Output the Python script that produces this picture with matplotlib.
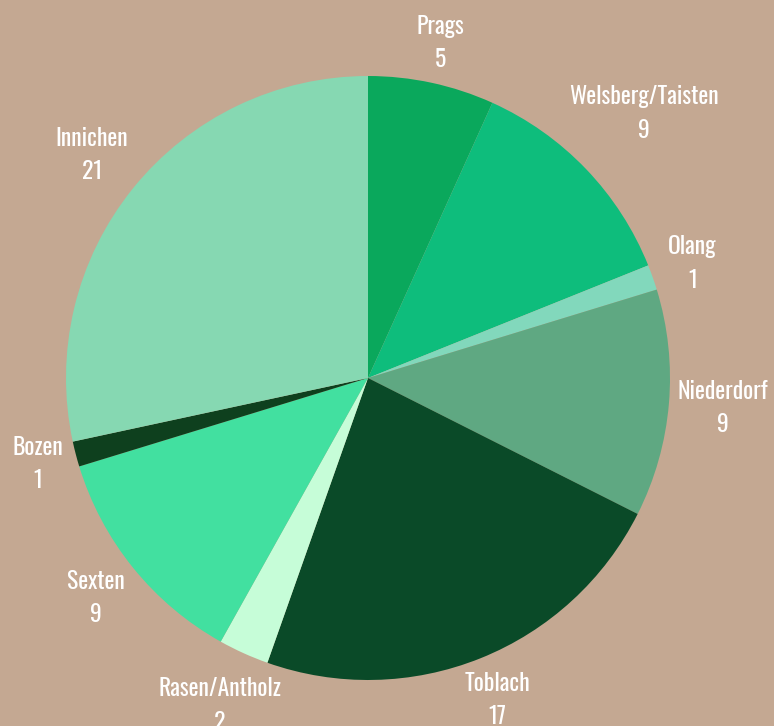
import numpy as np
import matplotlib
matplotlib.use("Agg")
import matplotlib.pyplot as plt
from matplotlib import font_manager

# Data
places = ["Prags", "Welsberg/Taisten", "Olang", "Niederdorf", "Toblach",
          "Rasen/Antholz", "Sexten", "Bozen", "Innichen"]
counts = [5, 9, 1, 9, 17, 2, 9, 1, 21]
colors = ["#0aa85c", "#0ebd7c", "#82d8bc", "#5fa882", "#0a4a28",
          "#c6fdd8", "#42e0a0", "#0e401e", "#86d8b2"]
label_dist = [1.135, 1.265, 1.14, 1.18, 1.15, 1.19, 1.16, 1.13, 1.175]

bg = "#c4a892"

# condensed face like the original, if installed
names = {f.name for f in font_manager.fontManager.ttflist}
narrow = [n for n in ["Oswald", "Liberation Sans Narrow", "Roboto Condensed"]
          if n in names]
plt.rcParams["font.family"] = narrow + ["DejaVu Sans"]

fig = plt.figure(figsize=(7.74, 7.26), dpi=100, facecolor=bg)
ax = fig.add_axes([0, 0, 1, 1])
ax.set_facecolor(bg)

wedges, _ = ax.pie(counts, colors=colors, startangle=90, counterclock=False,
                   radius=1.0, wedgeprops=dict(linewidth=0))

for w, name, n, d in zip(wedges, places, counts, label_dist):
    ang = np.deg2rad((w.theta1 + w.theta2) / 2)
    x, y = d * np.cos(ang), d * np.sin(ang)
    ax.text(x, y, f"{name}\n{n}", ha="center", va="center", color="white",
            fontsize=17, linespacing=1.55)

ax.set_xlim(-368 / 302, (774 - 368) / 302)
ax.set_ylim(-348 / 302, 378 / 302)
ax.set_aspect("equal")
ax.axis("off")

fig.savefig("out.png", dpi=100, facecolor=bg)
